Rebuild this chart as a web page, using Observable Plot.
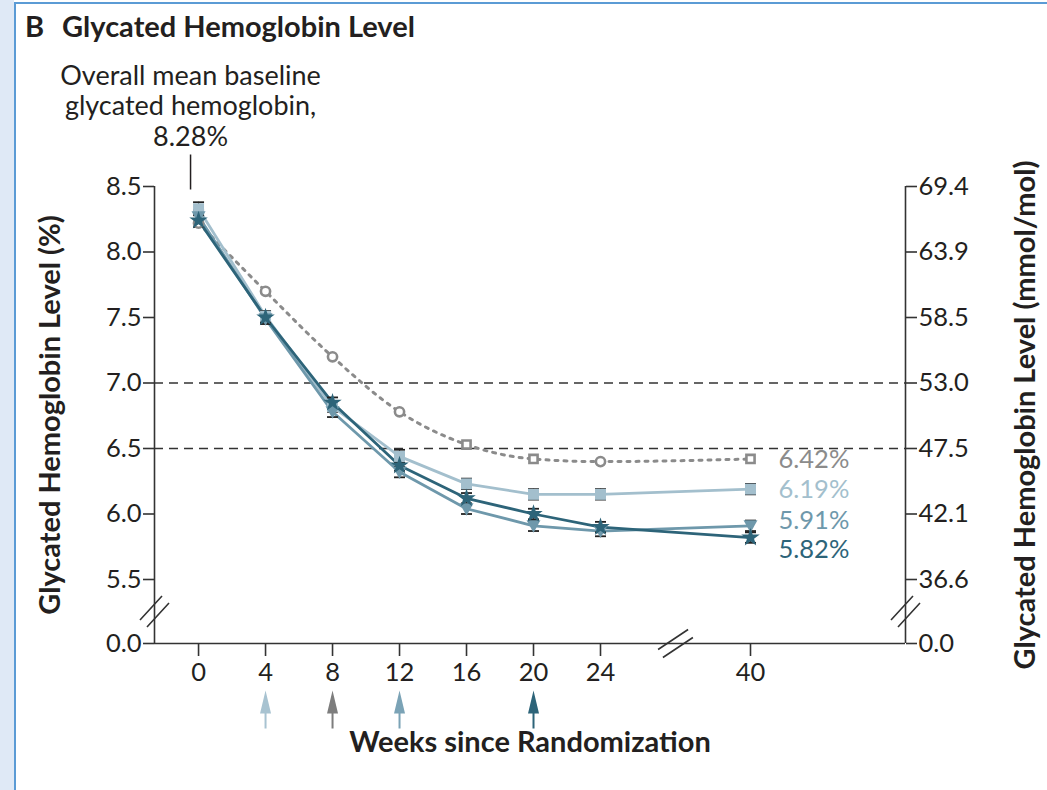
<!DOCTYPE html>
<html>
<head>
<meta charset="utf-8">
<script src="https://cdn.jsdelivr.net/npm/d3@7"></script>
<script src="https://cdn.jsdelivr.net/npm/@observablehq/plot@0.6"></script>
<style>
  html, body { margin: 0; padding: 0; background: #fff; }
  #page { position: relative; width: 1047px; height: 790px; overflow: hidden; background: #fff; }
  #strip { position: absolute; left: 0; top: 0; width: 14px; height: 790px; background: #dfe9f6; }
  #frame { position: absolute; left: 14px; top: 2px; width: 1040px; height: 800px;
           border-left: 2px solid #5b9bd5; border-top: 2px solid #5b9bd5; }
  #title { position: absolute; left: 25px; top: 11px; font: 700 29px Lato, "Open Sans", sans-serif;
           color: #231f20; line-height: 1; white-space: nowrap; }
  #title .t { margin-left: 18px; }
  #chart { position: absolute; left: 0; top: 40px; }
</style>
</head>
<body>
<div id="page">
  <div id="strip"></div>
  <div id="frame"></div>
  <div id="title"><span>B</span><span class="t">Glycated Hemoglobin Level</span></div>
  <div id="chart"></div>
</div>
<script>
// Mean glycated hemoglobin (%) by visit week, one array per treatment group
const weeks = [0, 4, 8, 12, 16, 20, 24, 40];
const hba1cComparator = [8.22, 7.70, 7.20, 6.78, 6.53, 6.42, 6.40, 6.42];
const hba1cLight      = [8.33, 7.51, 6.82, 6.44, 6.23, 6.15, 6.15, 6.19];
const hba1cMid        = [8.27, 7.49, 6.78, 6.32, 6.04, 5.91, 5.87, 5.91];
const hba1cDark       = [8.24, 7.50, 6.85, 6.37, 6.12, 6.00, 5.90, 5.82];

// Standard errors for the error-bar caps
const seLight = [0.05, 0.04, 0.04, 0.05, 0.04, 0.04, 0.04, 0.04];
const seMid   = [0.05, 0.04, 0.04, 0.04, 0.04, 0.04, 0.04, 0.04];
const seDark  = [0.05, 0.04, 0.04, 0.04, 0.04, 0.04, 0.04, 0.04];

// Axis ticks
const weekTicks = [0, 4, 8, 12, 16, 20, 24, 40];
const pctTicks = [0, 5.5, 6.0, 6.5, 7.0, 7.5, 8.0, 8.5];
const mmolTickLabels = ["0.0", "36.6", "42.1", "47.5", "53.0", "58.5", "63.9", "69.4"];

// Glycemic targets drawn as dashed reference lines
const targetLevels = [7.0, 6.5];

// Weeks at which each group reached its maintenance dose
const titrationWeeks = [4, 8, 12, 20];
const titrationGroups = ["light", "comparator", "mid", "dark"];

const baselineMean = 8.28;

const FONT = "Lato, 'Open Sans', sans-serif";
const INK = "#231f20";

const colors = {
  comparator: "#8b8b8b",
  light: "#a3bfcd",
  mid: "#6e98ab",
  dark: "#2d6479"
};
const arrowColors = {
  comparator: "#7d7d7d",
  light: "#a8c3d1",
  mid: "#7ba3b6",
  dark: "#2d6479"
};

const groups = [
  {key: "comparator", values: hba1cComparator, se: null},
  {key: "light", values: hba1cLight, se: seLight},
  {key: "mid", values: hba1cMid, se: seMid},
  {key: "dark", values: hba1cDark, se: seDark}
];
const rows = groups.flatMap(g => weeks.map((w, i) => ({
  group: g.key, week: w, value: g.values[i], se: g.se ? g.se[i] : 0
})));
const byGroup = k => rows.filter(d => d.group === k);
const withBars = rows.filter(d => d.group !== "comparator");
const lastRow = k => byGroup(k)[byGroup(k).length - 1];

// Broken axes: weeks 24→40 compressed, and 0→5.5 % compressed
const xLo = -2.63, xHi = 56.5;
const yBreak = (pctTicks[0] + pctTicks[1]) / 2;
const xBreak = (weekTicks[weekTicks.length - 2] + weekTicks[weekTicks.length - 1]) / 2;

// Custom glyphs
const capSymbol = {draw(c) { c.moveTo(-5.5, 0); c.lineTo(5.5, 0); }};
const triangleDown = {draw(c) { c.moveTo(-7, -5.5); c.lineTo(7, -5.5); c.lineTo(0, 7); c.closePath(); }};
const arrowSymbol = {draw(c) {
  c.moveTo(0, -20); c.lineTo(5.5, 3); c.lineTo(1, 3); c.lineTo(1, 18);
  c.lineTo(-1, 18); c.lineTo(-1, 3); c.lineTo(-5.5, 3); c.closePath();
}};
const breakSteep = {draw(c) {
  for (const o of [-3.5, 3.5]) { c.moveTo(-11 + o, 12 + o); c.lineTo(11 + o, -12 + o); }
}};
const breakFlat = {draw(c) {
  for (const o of [-4, 4]) { c.moveTo(-15 + o * 0.6, 10 + o); c.lineTo(15 + o * 0.6, -10 + o); }
}};
const leader = {draw(c) { c.moveTo(0, -18); c.lineTo(0, 17); }};

const labelOffset = {comparator: 1, light: 1, mid: -5, dark: 12};

const TICK_FS = 25.5;
const H = 750;
const chart = Plot.plot({
  width: 1047,
  height: H,
  marginLeft: 154,
  marginRight: 142,
  marginTop: 146,
  marginBottom: 147,
  style: {fontFamily: FONT, fontSize: `${TICK_FS}px`, color: INK, background: "transparent", overflow: "visible"},
  x: {type: "linear", domain: [xLo, 24, 40, xHi], range: [154, 600, 750, 905]},
  y: {type: "linear", domain: [0, 5.5, 8.5], range: [603, 539, 146]},
  marks: [
    // target reference lines
    Plot.ruleY(targetLevels, {stroke: "#333", strokeWidth: 1.6, strokeDasharray: "9,6"}),

    // axis lines
    Plot.ruleY([0], {stroke: "#333", strokeWidth: 1.6}),
    Plot.ruleX([xLo, xHi], {stroke: "#333", strokeWidth: 1.6}),

    // axis break marks
    Plot.dot([yBreak], {y: d => d, frameAnchor: "left", symbol: breakSteep, stroke: "#333", strokeWidth: 1.6, fill: "none"}),
    Plot.dot([yBreak], {y: d => d, frameAnchor: "right", symbol: breakSteep, stroke: "#333", strokeWidth: 1.6, fill: "none"}),
    Plot.dot([xBreak], {x: d => d, frameAnchor: "bottom", symbol: breakFlat, stroke: "#333", strokeWidth: 1.6, fill: "none"}),

    // axes
    Plot.axisX({ticks: weekTicks, tickSize: 13, tickPadding: 6, tickFormat: d => String(d), label: null,
      stroke: "#333", strokeWidth: 1.6, fontSize: TICK_FS}),
    Plot.axisY({anchor: "left", ticks: pctTicks, tickSize: 11, tickPadding: 2, tickFormat: d => d.toFixed(1), label: null,
      stroke: "#333", strokeWidth: 1.6, fontSize: TICK_FS}),
    Plot.axisY({anchor: "right", ticks: pctTicks, tickSize: 11, tickPadding: 2,
      tickFormat: d => mmolTickLabels[pctTicks.indexOf(d)], label: null, stroke: "#333", strokeWidth: 1.6, fontSize: TICK_FS}),

    // axis titles
    Plot.text(["Glycated Hemoglobin Level (%)"], {frameAnchor: "left", textAnchor: "middle", dx: -104, rotate: -90,
      fontSize: 29, fontWeight: 700, fill: INK}),
    Plot.text(["Glycated Hemoglobin Level (mmol/mol)"], {frameAnchor: "right", textAnchor: "middle", dx: 120, rotate: -90,
      fontSize: 29, fontWeight: 700, fill: INK}),
    Plot.text(["Weeks since Randomization"], {frameAnchor: "bottom", textAnchor: "middle", dy: 108,
      fontSize: 29, fontWeight: 700, fill: INK}),

    // baseline annotation
    Plot.text([{week: 0, text: `Overall mean baseline\nglycated hemoglobin,\n${baselineMean.toFixed(2)}%`}],
      {x: "week", text: "text", frameAnchor: "top", lineAnchor: "bottom", dx: -8, dy: -41, fontSize: 27, lineHeight: 1.12, fill: INK}),
    Plot.dot([0], {x: d => d, frameAnchor: "top", dx: -8, dy: -14, symbol: leader, stroke: INK, strokeWidth: 1.5, fill: "none"}),

    // comparator trajectory (dotted)
    Plot.line(byGroup("comparator"), {x: "week", y: "value", stroke: colors.comparator, strokeWidth: 3,
      strokeDasharray: "3,6", curve: "monotone-x"}),

    // treatment trajectories
    ...["light", "mid", "dark"].map(k => Plot.line(byGroup(k), {x: "week", y: "value", stroke: colors[k], strokeWidth: 2.8})),

    // error bars
    Plot.ruleX(withBars, {x: "week", y1: d => d.value - d.se, y2: d => d.value + d.se, stroke: "#333", strokeWidth: 1.2}),
    Plot.dot(withBars, {x: "week", y: d => d.value + d.se, symbol: capSymbol, stroke: "#222", strokeWidth: 1.8, fill: "none"}),
    Plot.dot(withBars, {x: "week", y: d => d.value - d.se, symbol: capSymbol, stroke: "#222", strokeWidth: 1.8, fill: "none"}),

    // markers
    Plot.dot(byGroup("comparator").filter(d => [16, 20, 40].includes(d.week)),
      {x: "week", y: "value", symbol: "square", r: 4.6, fill: "white", stroke: colors.comparator, strokeWidth: 2.6}),
    Plot.dot(byGroup("comparator").filter(d => ![16, 20, 40].includes(d.week)),
      {x: "week", y: "value", symbol: "circle", r: 4.6, fill: "white", stroke: colors.comparator, strokeWidth: 2.6}),
    Plot.dot(byGroup("light"), {x: "week", y: "value", symbol: "square", r: 6.2, fill: colors.light, stroke: "none"}),
    Plot.dot(byGroup("mid"), {x: "week", y: "value", symbol: triangleDown, fill: colors.mid, stroke: "none"}),
    Plot.dot(byGroup("dark"), {x: "week", y: "value", symbol: "star", r: 5.8, fill: colors.dark, stroke: "none"}),

    // end-of-trial values
    ...["comparator", "light", "mid", "dark"].map(k => Plot.text([lastRow(k)], {
      x: "week", y: "value", text: d => `${d.value.toFixed(2)}%`, dx: 28, dy: labelOffset[k],
      textAnchor: "start", fontSize: 25.5, fill: colors[k]
    })),

    // dose-titration arrows below the week axis
    ...titrationWeeks.map((w, i) => Plot.dot([w], {x: d => d, frameAnchor: "bottom", dy: 67,
      symbol: arrowSymbol, fill: arrowColors[titrationGroups[i]], stroke: "none"}))
  ]
});
document.getElementById("chart").appendChild(chart);
</script>
</body>
</html>
